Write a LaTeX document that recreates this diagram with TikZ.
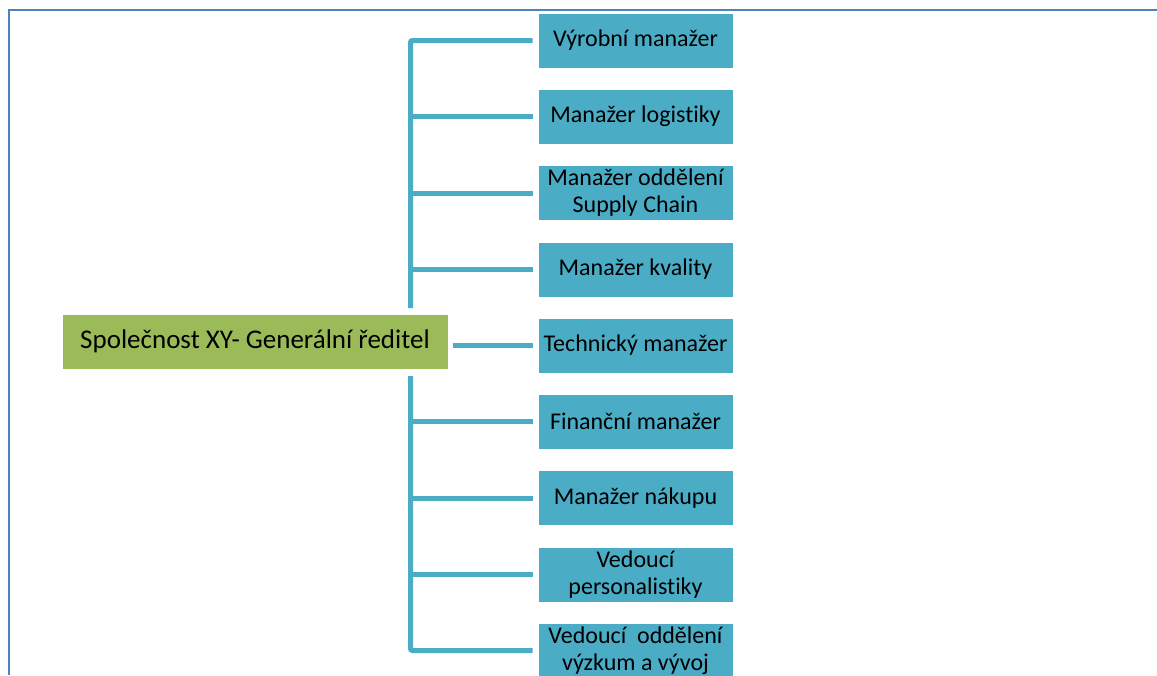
\documentclass[tikz,border=0pt]{standalone}
\usepackage{fontspec}
\setmainfont{Carlito}[Ligatures={NoCommon}]
\definecolor{framecol}{HTML}{4F81BD}
\definecolor{teal}{HTML}{4BACC6}
\definecolor{olive}{HTML}{9BBB59}
\begin{document}
\begin{tikzpicture}[x=1pt,y=-1pt,
  child/.style={fill=teal,draw=white,line width=0.8pt,minimum width=195pt,minimum height=55pt,
    inner sep=0pt,align=center,font=\fontsize{24}{27}\selectfont},
  head/.style={fill=olive,draw=white,line width=0.8pt,minimum width=386pt,minimum height=55pt,
    inner sep=0pt,font=\fontsize{27}{30}\selectfont},
  conn/.style={draw=teal,line width=5pt}]
\useasboundingbox (0,0) rectangle (1157,675);
% page frame
\draw[framecol,line width=2pt] (8.5,675) -- (8.5,9.5) -- (1160,9.5);
% root
\node[head] (root) at (255,341.5) {Společnost XY- Generální ředitel};
% department heads
\node[child] (c1) at (635.5,40.5) {Výrobní manažer};
\node[child] (c2) at (635.5,116.5) {Manažer logistiky};
\node[child] (c3) at (635.5,193) {Manažer oddělení\\Supply Chain};
\node[child] (c4) at (635.5,269.5) {Manažer kvality};
\node[child] (c5) at (635.5,345.5) {Technický manažer};
\node[child] (c6) at (635.5,421.5) {Finanční manažer};
\node[child] (c7) at (635.5,498) {Manažer nákupu};
\node[child] (c8) at (635.5,574.5) {Vedoucí\\personalistiky};
\node[child] (c9) at (635.5,650.5) {Vedoucí\ \ oddělení\\výzkum a vývoj};
% trunk ends next to the root box
\coordinate (tt) at (410.5,308);
\coordinate (tb) at (410.5,376);
% connectors
\draw[conn,rounded corners=2pt,shorten >=5pt] (tt) |- (c1.west);
\foreach \n in {c2,c3,c4}{\draw[conn,shorten >=5pt] (\n.west -| tt) -- (\n.west);}
\draw[conn,shorten <=5pt,shorten >=5pt] (root.east |- c5.west) -- (c5.west);
\foreach \n in {c6,c7,c8}{\draw[conn,shorten >=5pt] (\n.west -| tb) -- (\n.west);}
\draw[conn,rounded corners=2pt,shorten >=5pt] (tb) |- (c9.west);
\end{tikzpicture}
\end{document}
